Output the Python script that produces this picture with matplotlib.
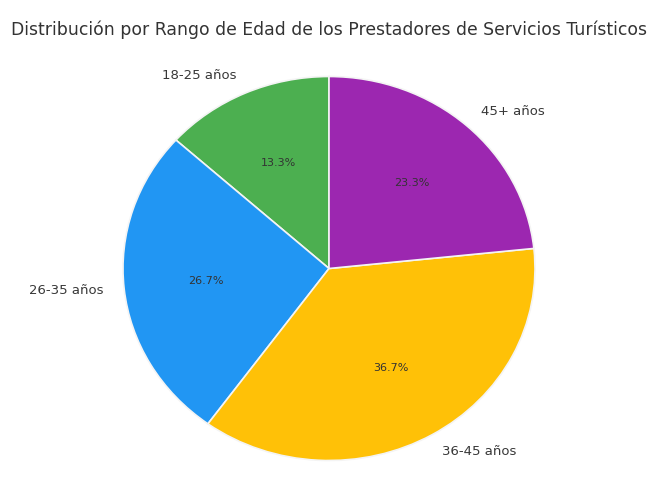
import matplotlib.pyplot as plt

rangos = ["18-25 años", "26-35 años", "36-45 años", "45+ años"]
cantidad = [4, 8, 11, 7]
colores = ["#4CAF50", "#2196F3", "#FFC107", "#9C27B0"]

fig = plt.figure(figsize=(6.5, 4.93), dpi=100)
# la imagen original está algo estirada en horizontal
ax = fig.add_axes([123 / 650, 32.5 / 493, 412 / 650, 384 / 493])

wedges, texts, autotexts = ax.pie(
    cantidad,
    labels=rangos,
    colors=colores,
    autopct="%1.1f%%",
    startangle=90,
    wedgeprops={"edgecolor": "#f4f4f4", "linewidth": 1.2},
    textprops={"fontsize": 9.5, "color": "#383838"},
)
for t in autotexts:
    t.set_fontsize(8)
    t.set_color("#333333")

ax.set_xlim(-1, 1)
ax.set_ylim(-1, 1)
ax.set_aspect("auto")
fig.text(329 / 650, 1 - 30 / 493, "Distribución por Rango de Edad de los Prestadores de Servicios Turísticos",
         ha="center", va="center", fontsize=12.4, color="#333333")

plt.savefig("out.png", dpi=100)
plt.close()
